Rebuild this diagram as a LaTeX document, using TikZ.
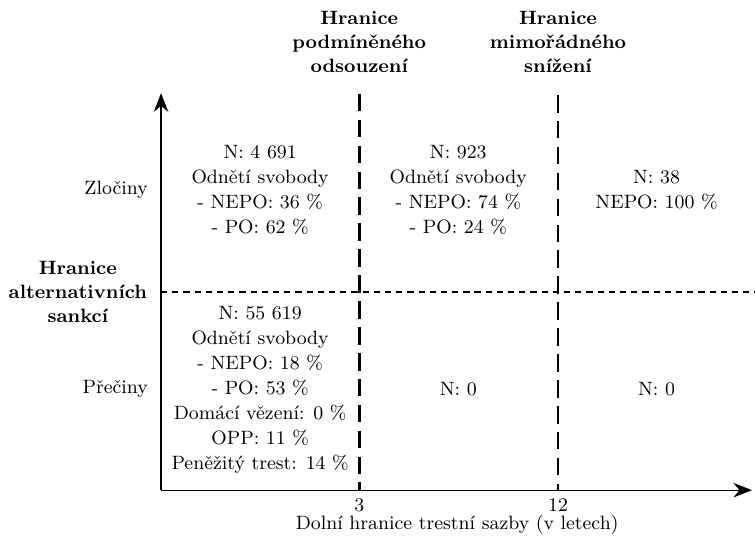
\documentclass[tikz,border=0pt]{standalone}
\usepackage{amsmath}
\usepackage{tikz}
\usetikzlibrary{arrows.meta}
\tikzset{
  every node/.style={font=\fontsize{9.3pt}{12pt}\selectfont},
  axis/.style={line width=0.6pt,-{Stealth[length=9pt,width=7pt]}},
  limit/.style={line width=1.3pt,dash pattern=on 8.5pt off 4pt},
  altlimit/.style={line width=0.9pt,dash pattern=on 3pt off 2.4pt},
  cell/.style={align=center},
  heading/.style={align=center,font=\fontsize{9.3pt}{11.6pt}\selectfont\bfseries}
}

\begin{document}
\begin{tikzpicture}
\useasboundingbox (-2.73,-0.78) rectangle (10.07,8.31);
\coordinate (O) at (0,0);
\coordinate (ytop) at (0,6.73);
\coordinate (xend) at (10.02,0);
\coordinate (lim3top) at (3.36,6.72);
\coordinate (lim3bot) at (3.36,0);
\coordinate (lim12top) at (6.73,6.70);
\coordinate (lim12bot) at (6.73,0);
\coordinate (altleft) at (0,3.36);
\coordinate (altright) at (10.07,3.36);

\draw[altlimit] (altleft)--(altright);
\draw[limit] (lim3top)--(lim3bot);
\draw[limit] (lim12top)--(lim12bot);
\draw[axis] (O)--(ytop);
\draw[axis] (O)--(xend);

\node (tick3) at (3.36,-0.26) {3};
\node (tick12) at (6.73,-0.26) {12};
\node (xlabel) at (5.02,-0.59) {Dolní hranice trestní sazby (v letech)};

\node[heading] (headcond) at (3.36,7.60) {Hranice\\podmíněného\\odsouzení};
\node[heading] (headred) at (6.73,7.60) {Hranice\\mimořádného\\snížení};
\node[heading] (headalt) at (-1.41,3.36) {Hranice\\alternativních\\sankcí};

\node[anchor=east] (crimes) at (-0.1,5.09) {Zločiny};
\node[anchor=east] (offences) at (-0.1,1.71) {Přečiny};

\node[cell] (crimeslow) at (1.68,5.09) {N: 4 691\\Odnětí svobody\\- NEPO: 36 \%\\- PO: 62 \%};
\node[cell] (crimesmid) at (5.04,5.09) {N: 923\\Odnětí svobody\\- NEPO: 74 \%\\- PO: 24 \%};
\node[cell] (crimeshigh) at (8.40,5.09) {N: 38\\NEPO: 100 \%};

\node[cell] (offlow) at (1.68,1.70) {N: 55 619\\Odnětí svobody\\- NEPO: 18 \%\\- PO: 53 \%\\Domácí vězení: 0 \%\\OPP: 11 \%\\Peněžitý trest: 14 \%};
\node[cell] (offmid) at (5.04,1.71) {N: 0};
\node[cell] (offhigh) at (8.40,1.71) {N: 0};
\end{tikzpicture}
\end{document}
